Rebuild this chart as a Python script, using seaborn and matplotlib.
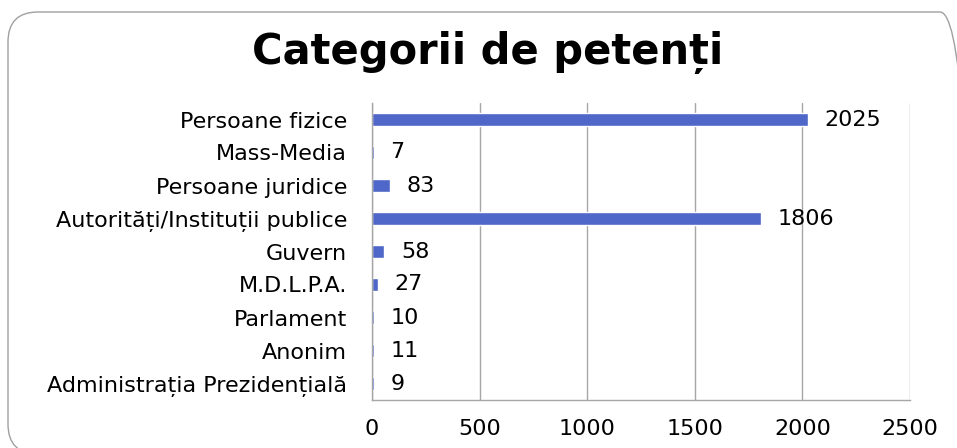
import matplotlib
matplotlib.use("Agg")
import matplotlib.pyplot as plt
import seaborn as sns
import pandas as pd
from matplotlib.patches import FancyBboxPatch

categorii = ["Persoane fizice", "Mass-Media", "Persoane juridice",
             "Autorități/Instituții publice", "Guvern", "M.D.L.P.A.",
             "Parlament", "Anonim", "Administrația Prezidențială"]
valori = [2025, 7, 83, 1806, 58, 27, 10, 11, 9]
x_ticks = [0, 500, 1000, 1500, 2000, 2500]

sns.set_theme(style="white")
plt.rcParams["font.family"] = ["DejaVu Sans"]

df = pd.DataFrame({"categorie": categorii, "valoare": valori})

fig = plt.figure(figsize=(9.57, 4.48), dpi=100)
ax = fig.add_axes([372 / 957, 1 - 400 / 448, (910 - 372) / 957, (400 - 103) / 448])

sns.barplot(data=df, y="categorie", x="valoare", color="#4F67C8",
            saturation=1, width=0.4, ax=ax)

ax.set_xlim(0, 2500)
ax.set_ylim(len(categorii) - 0.5, -0.5)
ax.set_xticks(x_ticks)
ax.set_xlabel("")
ax.set_ylabel("")
ax.grid(axis="x", color="#A6A6A6", linewidth=1)
ax.set_axisbelow(True)
for s in ["top", "right"]:
    ax.spines[s].set_visible(False)
for s in ["left", "bottom"]:
    ax.spines[s].set_color("#A6A6A6")
    ax.spines[s].set_linewidth(1)
ax.tick_params(axis="x", length=0, pad=14, labelsize=16, colors="black")
ax.tick_params(axis="y", length=0, pad=18, labelsize=16, colors="black")

# etichete cu valori
for i, v in enumerate(valori):
    ax.annotate(str(v), (v, i), xytext=(12, 0), textcoords="offset points",
                va="center", ha="left", fontsize=16, color="black")

fig.text(488 / 957, 1 - 52 / 448, "Categorii de petenți", ha="center",
         va="center", fontsize=30, fontweight="bold", color="black")

# chenar rotunjit
box = FancyBboxPatch((0.08, -0.06), 9.62, 4.48 - 0.12 + 0.06,
                     boxstyle="round,pad=0,rounding_size=0.3",
                     transform=fig.dpi_scale_trans, facecolor="none",
                     edgecolor="#A0A0A0", linewidth=1)
fig.patches.append(box)

fig.savefig("out.png", dpi=100)
